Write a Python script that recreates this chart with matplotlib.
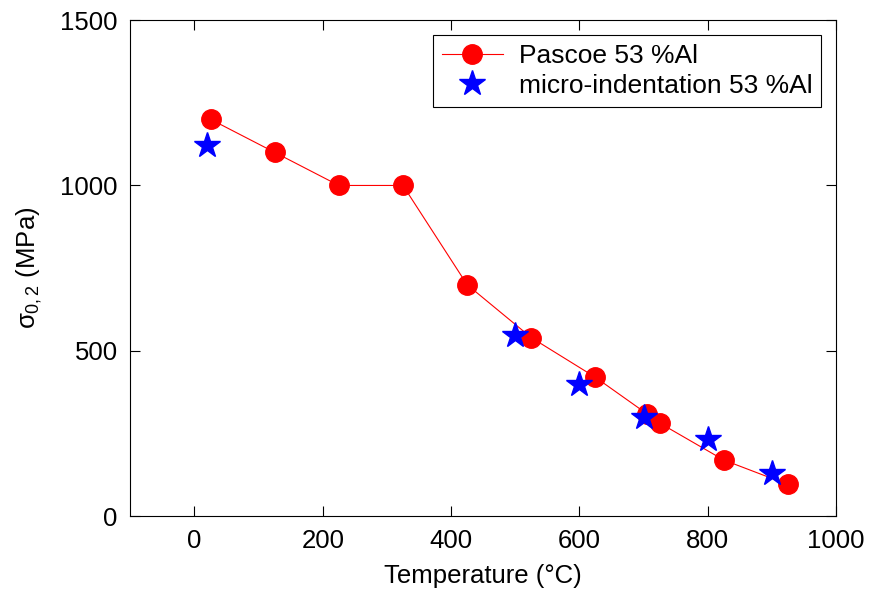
import numpy as np
import matplotlib
matplotlib.use("Agg")
import matplotlib.pyplot as plt

# data
pascoe_temp = [25, 125, 225, 325, 425, 525, 625, 705, 725, 825, 925]
pascoe_stress = [1200, 1100, 1000, 1000, 700, 540, 420, 310, 282, 170, 96]

micro_temp = [20, 500, 600, 700, 800, 900]
micro_stress = [1122, 547, 400, 299, 235, 131]

x_ticks = [0, 200, 400, 600, 800, 1000]
y_ticks = [0, 500, 1000, 1500]

plt.rcParams['font.family'] = ['Liberation Sans', 'DejaVu Sans']
plt.rcParams['mathtext.fontset'] = 'custom'
plt.rcParams['mathtext.rm'] = 'Liberation Sans'
plt.rcParams['mathtext.it'] = 'Liberation Sans'


def make_plot():
    fig = plt.figure(figsize=(8.69, 5.90), dpi=100)
    ax = fig.add_axes([0.150, 0.125, 0.812, 0.841])

    ax.plot(pascoe_temp, pascoe_stress, color='red', linewidth=0.8,
            marker='o', markersize=14, markerfacecolor='red',
            markeredgecolor='red', label='Pascoe 53 %Al')
    ax.plot(micro_temp, micro_stress, linestyle='none', marker='*',
            markersize=19, color='blue', markeredgecolor='blue',
            label='micro-indentation 53 %Al')

    ax.set_xlim(-100, 1000)
    ax.set_ylim(0, 1500)
    ax.set_xticks(x_ticks)
    ax.set_yticks(y_ticks)
    ax.tick_params(direction='in', top=True, right=True, length=7,
                   labelsize=18.5, width=0.8, pad=9)
    for sp in ax.spines.values():
        sp.set_linewidth(0.8)

    ax.set_xlabel('Temperature (°C)', fontsize=18.5, labelpad=8)
    ax.set_ylabel(r'$\sigma_{0,2}$ (MPa)', fontsize=18.5, labelpad=12)

    leg = ax.legend(loc='upper right', fontsize=19, fancybox=False,
                    edgecolor='black', framealpha=1, borderaxespad=0.55,
                    handlelength=2.3, borderpad=0.35, labelspacing=0.22,
                    handletextpad=0.6)
    leg.get_frame().set_linewidth(0.8)

    fig.savefig('out.png', dpi=100)


if __name__ == "__main__":
    make_plot()
